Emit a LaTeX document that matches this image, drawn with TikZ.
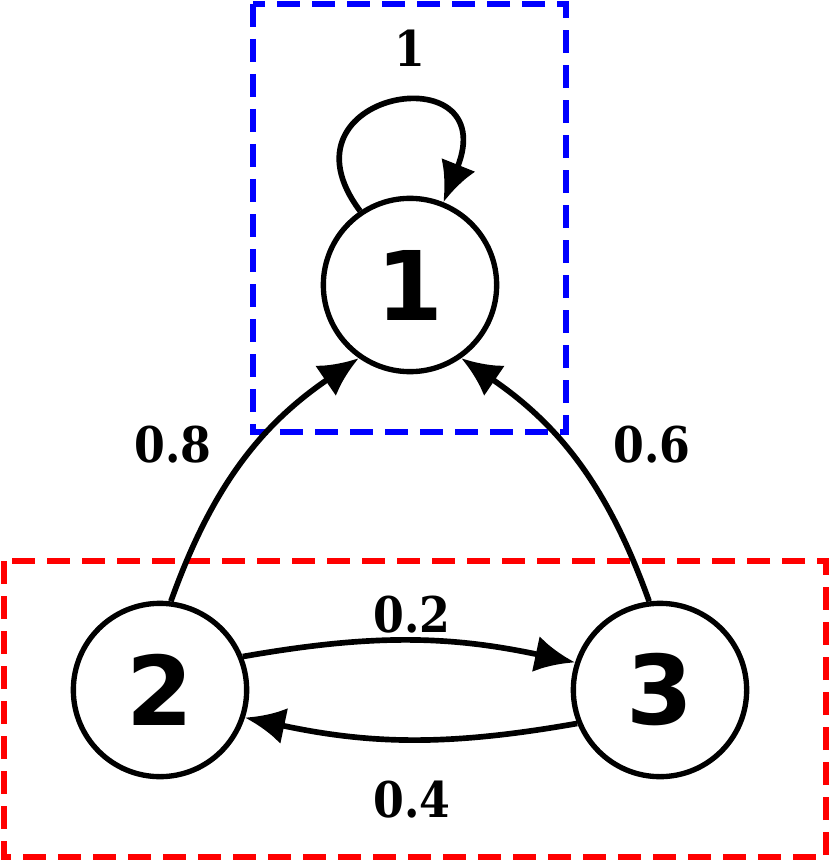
\documentclass[tikz,border=0pt]{standalone}
\usepackage{fontspec}
\setmainfont{DejaVu Sans}
\newfontfamily\lblfont{DejaVu Serif Condensed}
\usetikzlibrary{arrows.meta}
\begin{document}
\begin{tikzpicture}[x=0.3mm,y=-0.3mm,
  st/.style={circle,draw,line width=1.6mm,minimum size=52mm,inner sep=0pt,font=\fontsize{82}{82}\selectfont\bfseries},
  ed/.style={line width=1.7mm,-{Latex[length=12mm,width=11mm]}},
  lb/.style={font=\lblfont\fontsize{42}{42}\selectfont\bfseries}]
\useasboundingbox (0,0) rectangle (830,862);
\draw[blue,line width=1.8mm,dash pattern=on 7mm off 3.5mm] (253,4) rectangle (566,432);
\draw[red,line width=1.8mm,dash pattern=on 7mm off 3.5mm] (4,561) rectangle (826,857);
\node[st] (n1) at (410,285) {1};
\node[st] (n2) at (160,690) {2};
\node[st] (n3) at (660,690) {3};
\draw[ed] (n1.124) .. controls +(-90,-120) and +(60,-150) .. (n1.68);
\draw[ed] (n2.83) to[bend left=18] (n1.235);
\draw[ed] (n3.97) to[bend right=18] (n1.305);
\draw[ed] (n2.22) to[bend left=11] (n3.162);
\draw[ed] (n3.202) to[bend left=11] (n2.-18);
\node[lb] (l1) at (410,48) {1};
\node[lb] (l8) at (173,445) {0.8};
\node[lb] (l6) at (652,445) {0.6};
\node[lb] (l2) at (412,615) {0.2};
\node[lb] (l4) at (412,800) {0.4};
\end{tikzpicture}
\end{document}
